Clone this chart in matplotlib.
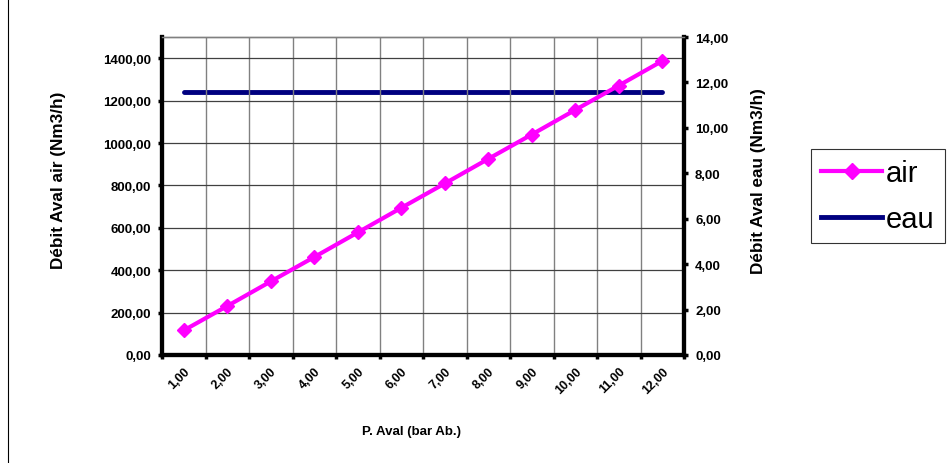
import matplotlib
matplotlib.use("Agg")
from matplotlib import pyplot as plt
from matplotlib.lines import Line2D
import numpy as np

plt.rcParams['font.family'] = ['Liberation Sans', 'DejaVu Sans']

pression = ['1,00', '2,00', '3,00', '4,00', '5,00', '6,00',
            '7,00', '8,00', '9,00', '10,00', '11,00', '12,00']
debit_air = [116, 231, 347, 462, 578, 694, 809, 925, 1040, 1156, 1271, 1387]
debit_eau = [11.6] * 12
ticks_air = [0, 200, 400, 600, 800, 1000, 1200, 1400]
ticks_eau = [0, 2, 4, 6, 8, 10, 12, 14]


def virgule(v, dec=2):
    return f'{v:.{dec}f}'.replace('.', ',')


W, H = 951, 464
fig = plt.figure(figsize=(W / 100, H / 100), dpi=100)
ax = fig.add_axes([162 / W, 1 - 356 / H, 522 / W, 318 / H])
ax2 = ax.twinx()

x = np.arange(len(pression)) + 0.5

ax.set_xlim(0, len(pression))
ax.set_ylim(0, 1500)

# grille
ax.set_xticks(np.arange(len(pression) + 1))
ax.set_xticklabels([])
ax.set_xticks(x, minor=True)
ax.set_xticklabels(pression, minor=True, rotation=45, ha='right',
                   rotation_mode='anchor', fontweight='bold', fontsize=9)
ax.tick_params(axis='x', which='minor', length=0, pad=7)
ax.tick_params(axis='x', which='major', length=3, width=2.5, direction='out')
ax.xaxis.grid(True, which='major', color='#808080', lw=1)
ax.set_yticks(ticks_air)
ax.set_yticklabels([virgule(t) for t in ticks_air], fontweight='bold', fontsize=9.5)
ax.yaxis.grid(True, color='#404040', lw=0.9)
ax.tick_params(axis='y', length=3, width=2.5, direction='out', pad=5)
ax.set_axisbelow(True)

ax2.set_ylim(0, 14)
ax2.set_yticks(ticks_eau)
ax2.set_yticklabels([virgule(t) for t in ticks_eau], fontweight='bold', fontsize=9.5)
ax2.tick_params(axis='y', length=3, width=2.5, direction='out', pad=5)

for a in (ax, ax2):
    a.spines['left'].set_linewidth(3)
    a.spines['right'].set_linewidth(3)
    a.spines['bottom'].set_linewidth(3)
    a.spines['top'].set_color('#808080')
    a.spines['top'].set_linewidth(1)

ax.plot(x, debit_air, color='#FF00FF', lw=3, marker='D', markersize=7,
        zorder=4, clip_on=False)
ax2.plot(x, debit_eau, color='#000080', lw=3.5, solid_capstyle='round', zorder=3)
ax.set_zorder(ax2.get_zorder() + 1)
ax.patch.set_visible(False)

fig.text(58 / W, 1 - 180 / H, 'Débit Aval air (Nm3/h)', rotation=90,
         ha='center', va='center', fontweight='bold', fontsize=12.3)
fig.text(759 / W, 1 - 181 / H, 'Débit Aval eau (Nm3/h)', rotation=90,
         ha='center', va='center', fontweight='bold', fontsize=12.3)
fig.text(411 / W, 1 - 432 / H, 'P. Aval (bar Ab.)',
         ha='center', va='center', fontweight='bold', fontsize=9.5)

handles = [Line2D([], [], color='#FF00FF', lw=3, marker='D', markersize=8),
           Line2D([], [], color='#000080', lw=3.5)]
leg = fig.legend(handles, ['air', 'eau'], loc='upper left',
                 bbox_to_anchor=(811 / W, 1 - 150 / H), fontsize=21, frameon=True,
                 fancybox=False, edgecolor='black', handlelength=2.1,
                 handletextpad=0.12, borderpad=0.35, labelspacing=0.6,
                 borderaxespad=0)
leg.get_frame().set_linewidth(0.8)

fig.add_artist(Line2D([0.0085, 0.0085], [0, 1], color='black', lw=0.8))

fig.savefig('out.png', dpi=100)
